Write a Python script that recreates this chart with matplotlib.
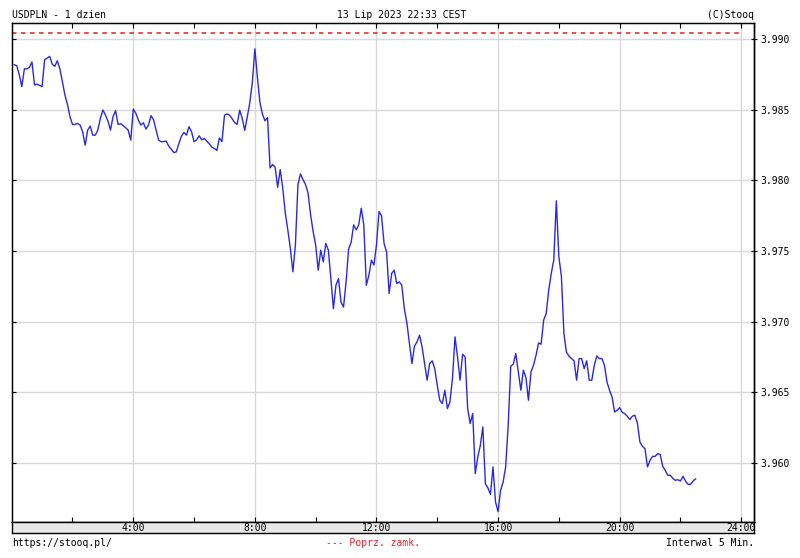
import numpy as np
import matplotlib.pyplot as plt

plt.rcParams['font.family'] = 'DejaVu Sans Mono'
plt.rcParams['font.size'] = 7

# USDPLN, 5-min closes, 13 Jul 2023 (first bar 0:05)
night = [3.98820, 3.98813, 3.98748, 3.98665, 3.98791, 3.98791, 3.98801, 3.98839, 3.98677, 3.98682,
         3.98673, 3.98665, 3.98855, 3.98867, 3.98879, 3.98824, 3.98808, 3.98848, 3.98791, 3.98701,
         3.98606, 3.98540, 3.98452, 3.98397, 3.98397, 3.98404, 3.98393, 3.98345, 3.98250, 3.98357,
         3.98385, 3.98321, 3.98321, 3.98357, 3.98440, 3.98499, 3.98464, 3.98421, 3.98357, 3.98452,
         3.98495, 3.98397, 3.98402,
         3.98388, 3.98374, 3.98355, 3.98286, 3.98506, 3.98476, 3.98428, 3.98393, 3.98409, 3.98364,
         3.98393, 3.98459, 3.98430, 3.98357, 3.98286, 3.98274, 3.98276, 3.98279, 3.98243, 3.98222,
         3.98198, 3.98203, 3.98262, 3.98314, 3.98340, 3.98321, 3.98381, 3.98345, 3.98274, 3.98288,
         3.98317, 3.98288, 3.98298, 3.98279, 3.98260]
morning = [3.98237, 3.98227, 3.98213, 3.98301, 3.98275, 3.98462, 3.98472, 3.98462, 3.98438, 3.98410,
           3.98398, 3.98498, 3.98441, 3.98355, 3.98450, 3.98552, 3.98695, 3.98932, 3.98731, 3.98552,
           3.98469, 3.98422, 3.98446, 3.98089, 3.98113, 3.98094, 3.97952, 3.98077, 3.97947, 3.97769,
           3.97650, 3.97519, 3.97353, 3.97543, 3.97971, 3.98047, 3.98006, 3.97971, 3.97911, 3.97757,
           3.97638, 3.97543, 3.97365, 3.97507, 3.97424, 3.97555, 3.97507, 3.97306, 3.97092, 3.97258,
           3.97306, 3.97139, 3.97104, 3.97282, 3.97515,
           3.97562, 3.97686, 3.97650, 3.97686, 3.97804, 3.97686, 3.97258, 3.97329, 3.97436, 3.97401,
           3.97543, 3.97780, 3.97750]
afternoon = [3.97554, 3.97493, 3.97200, 3.97342, 3.97365, 3.97271, 3.97282, 3.97259, 3.97093, 3.96992,
             3.96846, 3.96704, 3.96827, 3.96857, 3.96905, 3.96822, 3.96704, 3.96586, 3.96704, 3.96723,
             3.96668, 3.96550, 3.96444, 3.96420, 3.96515, 3.96385, 3.96432, 3.96597, 3.96893, 3.96751,
             3.96586, 3.96770, 3.96751, 3.96385, 3.96279, 3.96350, 3.95924, 3.96042, 3.96125, 3.96255,
             3.95854, 3.95823, 3.95778, 3.95972, 3.95724, 3.95655, 3.95806, 3.95865, 3.95972, 3.96267,
             3.96685, 3.96699, 3.96775, 3.96645, 3.96515, 3.96657, 3.96605, 3.96444, 3.96645, 3.96692,
             3.96763, 3.96850, 3.96841, 3.97011, 3.97058, 3.97223, 3.97342, 3.97436]
evening = [3.97856, 3.97460, 3.97323, 3.96916, 3.96784, 3.96756, 3.96739, 3.96723, 3.96586, 3.96739,
           3.96739, 3.96668, 3.96723, 3.96586, 3.96586, 3.96692, 3.96758, 3.96739, 3.96739,
           3.96692, 3.96574, 3.96515, 3.96468, 3.96361, 3.96373, 3.96392, 3.96359, 3.96349, 3.96331,
           3.96307, 3.96331, 3.96338, 3.96283, 3.96149, 3.96118, 3.96101, 3.95972, 3.96019, 3.96047,
           3.96047, 3.96066, 3.96061, 3.95976, 3.95948, 3.95913, 3.95913, 3.95891, 3.95877, 3.95882,
           3.95872, 3.95906, 3.95872, 3.95849, 3.95849, 3.95872, 3.95887]

prev_close = 3.99047
y_ticks = [3.960, 3.965, 3.970, 3.975, 3.980, 3.985, 3.990]
hour_labels = [4, 8, 12, 16, 20, 24]

usdpln = night + morning + afternoon + evening
hours = (5 + 5 * np.arange(len(usdpln))) / 60.0

W, H = 800, 558
fig = plt.figure(figsize=(8, 5.58), dpi=100)
x0, x1 = 11.7, 754
top, bot, band_bot = 23.3, 522.3, 533.3

ax = fig.add_axes([x0 / W, 1 - bot / H, (x1 - x0) / W, (bot - top) / H])
ax.plot(hours, usdpln, color='#2b2bd6', lw=1.0, zorder=3)
ax.hlines(prev_close, 0, 24, colors='#f03c3c', linestyles=(0, (2.5, 2.5)), lw=1.3, zorder=2)
ax.set_xlim(0, 24.42)
ax.set_ylim(3.9558, 3.99113)

ax.set_xticks(hour_labels)
ax.set_xticks(np.arange(2, 25, 4), minor=True)
ax.tick_params(axis='x', which='both', direction='in', top=True, bottom=True,
               length=3.5, width=0.8, labelbottom=False)
ax.set_yticks(y_ticks)
ax.tick_params(axis='y', direction='in', left=True, length=3, width=0.8, labelleft=False)
ax.grid(True, which='major', color='#d8d8d8', lw=1.0)
ax.set_axisbelow(True)
for s in ax.spines.values():
    s.set_color('black')
    s.set_linewidth(1.0)

axr = ax.twinx()
axr.set_ylim(ax.get_ylim())
axr.set_yticks(y_ticks)
axr.set_yticklabels(['%.3f' % v for v in y_ticks])
axr.tick_params(axis='y', direction='inout', length=5, width=0.8, pad=2)
axr.spines['right'].set_linewidth(1.0)

band = fig.add_axes([x0 / W, 1 - band_bot / H, (x1 - x0) / W, (band_bot - bot) / H])
band.set_facecolor('#e8e8e8')
band.set_xlim(0, 24.42)
band.set_ylim(0, 1)
band.set_xticks([])
band.set_yticks([])
for s in band.spines.values():
    s.set_linewidth(1.0)
for h in hour_labels:
    band.text(h, 0.45, '%d:00' % h, ha='center', va='center')

fig.text(x0 / W, 1 - 15 / H, 'USDPLN - 1 dzien', ha='left', va='center')
fig.text(402 / W, 1 - 15 / H, '13 Lip 2023 22:33 CEST', ha='center', va='center')
fig.text(x1 / W, 1 - 15 / H, '(C)Stooq', ha='right', va='center')
fig.text(x0 / W, 1 - 542.5 / H, 'https://stooq.pl/', ha='left', va='center')
fig.text(372.5 / W, 1 - 542.5 / H, '--- Poprz. zamk.', ha='center', va='center', color='#e8222a')
fig.text(x1 / W, 1 - 542.5 / H, 'Interwal 5 Min.', ha='right', va='center')

fig.savefig('out.png', dpi=100)
